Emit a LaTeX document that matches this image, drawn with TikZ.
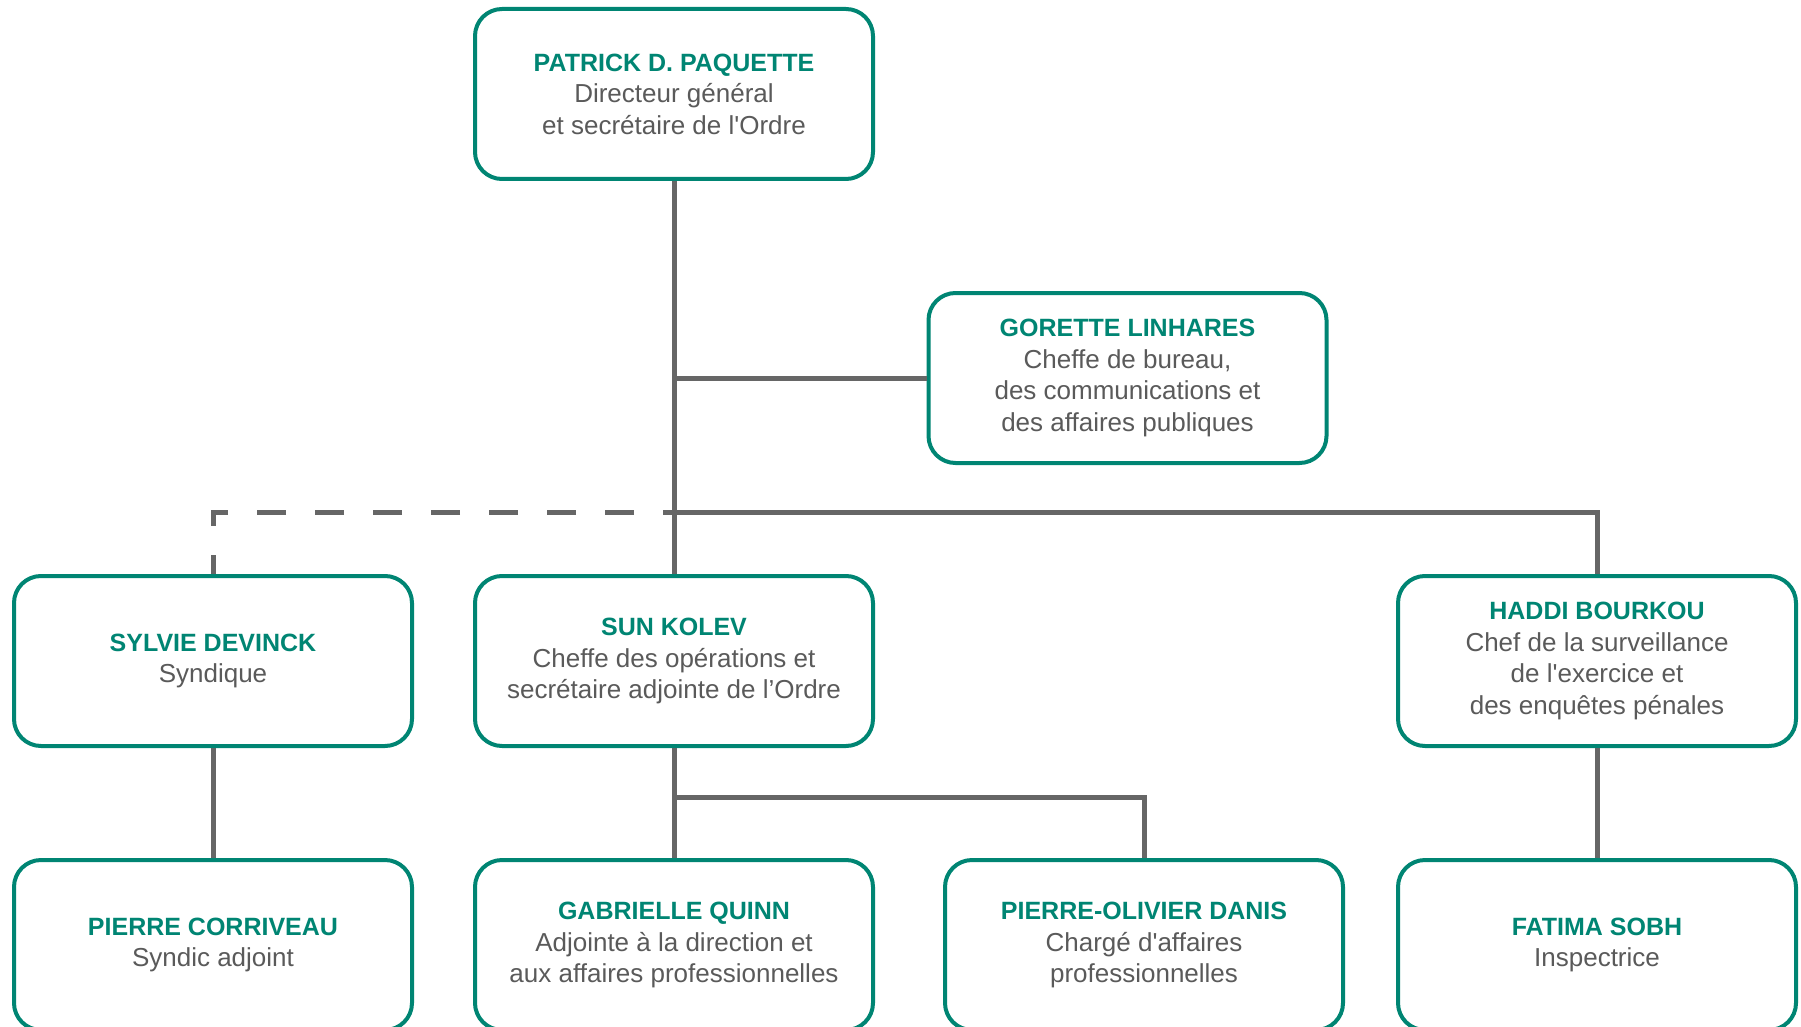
\documentclass[tikz,border=0pt]{standalone}
\usepackage{fontspec}
\setmainfont{Liberation Sans}
\usepackage{xcolor}
\usetikzlibrary{positioning}

\definecolor{orgteal}{RGB}{0,133,115}
\definecolor{orgtext}{RGB}{90,90,90}
\definecolor{orgline}{RGB}{102,102,102}

\newcommand{\nm}[1]{{\bfseries\fontsize{25}{31.5}\selectfont\color{orgteal}#1}}
\newcommand{\ap}{\textquotesingle}

\begin{document}
\begin{tikzpicture}[x=1pt,y=-1pt,
	box/.style={draw=orgteal, line width=4pt, fill=white, rounded corners=27pt,
		minimum width=398pt, minimum height=170pt, align=center, inner sep=0pt,
		text=orgtext, font=\fontsize{26}{31.5}\selectfont},
	link/.style={draw=orgline, line width=5pt},
	dashlink/.style={link, dash pattern=on 29pt off 29pt, dash phase=18pt}]
						\useasboundingbox (0,0) rectangle (1801,1027);
						
						\node[box] (dg) at (674,94) {\nm{PATRICK D. PAQUETTE}\\Directeur général\\et secrétaire de l\ap Ordre};
						\node[box] (bur) at (1127.5,378) {\nm{GORETTE LINHARES}\\Cheffe de bureau,\\des communications et\\des affaires publiques};
						
						\node[box] (syn) at (213,661) {\nm{SYLVIE DEVINCK}\\Syndique};
						\node[box] (ops) at (674,661) {\nm{SUN KOLEV}\\Cheffe des opérations et\\secrétaire adjointe de l’Ordre};
						\node[box] (surv) at (1597,661) {\nm{HADDI BOURKOU}\\Chef de la surveillance\\de l\ap exercice et\\des enquêtes pénales};
						
						\node[box] (synadj) at (213,945) {\nm{PIERRE CORRIVEAU}\\Syndic adjoint};
						\node[box] (adj) at (674,945) {\nm{GABRIELLE QUINN}\\Adjointe à la direction et\\aux affaires professionnelles};
						\node[box] (aff) at (1144,945) {\nm{PIERRE-OLIVIER DANIS}\\Chargé d\ap affaires\\professionnelles};
						\node[box] (insp) at (1597,945) {\nm{FATIMA SOBH}\\Inspectrice};
						
						\coordinate (split) at (674,512);
						\coordinate (opsplit) at (674,797);
						
						\draw[link] (dg.south) -- (ops.north);
						\draw[link] (dg.south |- bur.west) -- (bur.west);
						\draw[link] (split) -| (surv.north);
						\draw[dashlink] (split) -| (syn.north);
						\draw[link] (syn.south) -- (synadj.north);
						\draw[link] (ops.south) -- (adj.north);
						\draw[link] (opsplit) -| (aff.north);
						\draw[link] (surv.south) -- (insp.north);
					\end{tikzpicture}
\end{document}
